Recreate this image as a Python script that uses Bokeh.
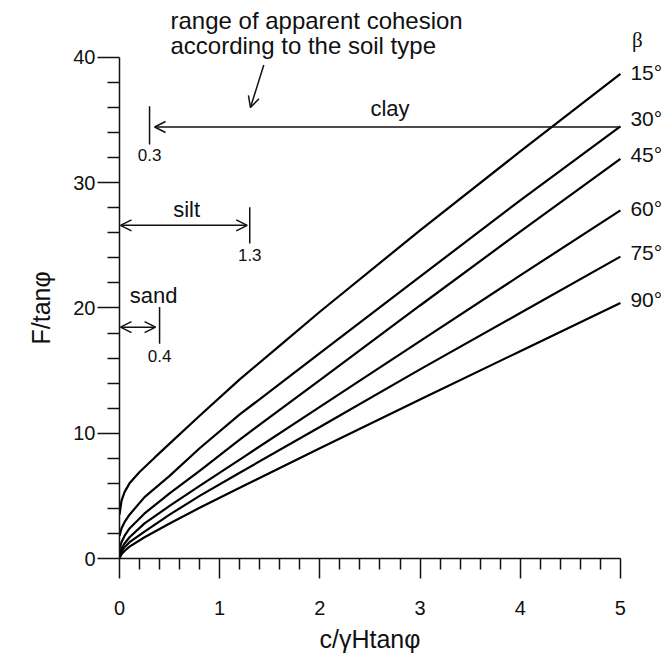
from bokeh.plotting import figure
from bokeh.models import Range1d, FixedTicker, Arrow, OpenHead, Title
from bokeh.core.properties import value
from bokeh.embed import file_html
from bokeh.resources import INLINE

# ---- data ----
betas = ["15°", "30°", "45°", "60°", "75°", "90°"]
beta_label_y = [38.83, 35.15, 32.26, 27.98, 24.4, 20.68]
x15 = [0, 0.02, 0.05, 0.1, 0.2, 0.35, 0.5, 0.8, 1.2, 1.6, 2, 3, 4, 5]
y15 = [3.5, 4.6, 5.3, 6.0, 6.9, 8.05, 9.17, 11.4, 14.3, 17.0, 19.7, 26.2, 32.5, 38.7]
x_other = [0, 0.02, 0.05, 0.1, 0.25, 0.5, 0.8, 1.2, 2, 3, 4, 5]
y30 = [1.8, 2.4, 2.9, 3.5, 4.9, 6.6, 8.8, 11.5, 16.4, 22.5, 28.6, 34.5]
y45 = [0.8, 1.3, 1.8, 2.4, 3.6, 5.2, 7.0, 9.5, 14.25, 20.2, 26.1, 31.9]
y60 = [0.3, 0.8, 1.2, 1.7, 2.8, 4.2, 5.8, 7.9, 12.1, 17.35, 22.6, 27.8]
y75 = [0.15, 0.55, 0.9, 1.3, 2.15, 3.5, 5.0, 6.85, 10.5, 15.1, 19.6, 24.1]
y90 = [0.0, 0.35, 0.6, 0.95, 1.7, 2.8, 4.05, 5.65, 8.8, 12.7, 16.55, 20.4]

# soil cohesion ranges (upper limit of c/γHtanφ)
soils = ["clay", "silt", "sand"]
soil_limits = [0.3, 1.3, 0.4]
soil_arrow_y = [34.45, 26.6, 18.47]

x_ticks = [0, 1, 2, 3, 4, 5]
x_minor = [i / 5 for i in range(26) if i % 5 != 0]
y_ticks = [0, 10, 20, 30, 40]
y_minor = [i * 2 for i in range(21) if i % 5 != 0]

FONT = "Liberation Sans"
INK = "#111111"

p = figure(width=664, height=662,
           x_range=Range1d(0, 5.44), y_range=Range1d(0, 44.55),
           output_backend="svg", toolbar_location=None,
           min_border_left=119, min_border_right=0,
           min_border_top=0, min_border_bottom=104)
p.background_fill_color = "white"
p.border_fill_color = "white"
p.outline_line_color = None
p.xgrid.visible = False
p.ygrid.visible = False

for ax in (p.xaxis[0], p.yaxis[0]):
    ax.axis_line_width = 1.5
    ax.axis_line_color = INK
    ax.major_tick_line_width = 1.5
    ax.minor_tick_line_width = 1.5
    ax.major_tick_line_color = INK
    ax.minor_tick_line_color = INK
    ax.major_tick_in = 0
    ax.minor_tick_in = 0
    ax.major_label_text_font = FONT
    ax.major_label_text_font_size = "20px"
    ax.major_label_text_color = INK

p.xaxis.ticker = FixedTicker(ticks=x_ticks, minor_ticks=x_minor)
p.yaxis.ticker = FixedTicker(ticks=y_ticks, minor_ticks=y_minor)
p.xaxis.bounds = (0, 5)
p.yaxis.bounds = (0, 40)
p.xaxis.major_tick_out = 20
p.xaxis.minor_tick_out = 11
p.yaxis.major_tick_out = 22
p.yaxis.minor_tick_out = 12
p.xaxis.major_label_standoff = 22
p.yaxis.major_label_standoff = 2

# axis titles (as side titles so they can be centred on the 0..5 / 0..40 span)
p.add_layout(Title(text="c/γHtanφ", align="left", offset=200, standoff=10,
                   text_font=FONT, text_font_size="25px",
                   text_font_style="normal", text_color=INK), "below")
p.add_layout(Title(text="F/tanφ", align="left", offset=214, standoff=28,
                   vertical_align="top",
                   text_font=FONT, text_font_size="25px",
                   text_font_style="normal", text_color=INK), "left")

# curves
curves = [(x15, y15), (x_other, y30), (x_other, y45),
          (x_other, y60), (x_other, y75), (x_other, y90)]
for xs, ys in curves:
    p.line(xs, ys, line_color="black", line_width=2.2)

# beta labels at right end of each curve
p.text(x=[5.1] * 6, y=beta_label_y, text=betas,
       text_font=value(FONT), text_font_size="21px", text_baseline="middle",
       text_align="left", text_color=INK)
p.text(x=[5.17], y=[41.4], text=["β"], text_font=value("Liberation Serif"),
       text_font_size="21px", text_baseline="middle", text_align="center",
       text_color=INK)

# soil ranges: limit bars
p.segment(x0=soil_limits, y0=[33.05, 25.15, 17.14], x1=soil_limits,
          y1=[36.1, 28.05, 20.07], line_color=INK, line_width=1.5)
p.text(x=soil_limits, y=[32.2, 24.2, 16.2],
       text=[str(v) for v in soil_limits], text_font=value(FONT),
       text_font_size="17px", text_baseline="middle", text_align="center",
       text_color=INK)
p.text(x=[2.7, 0.67, 0.34], y=[35.9, 27.9, 21.0], text=soils,
       text_font=value(FONT), text_font_size="22px", text_baseline="middle",
       text_align="center", text_color=INK)

# arrows
head = dict(size=11, line_width=1.5, line_color=INK)
p.add_layout(Arrow(end=OpenHead(**head), x_start=5, y_start=soil_arrow_y[0],
                   x_end=0.35, y_end=soil_arrow_y[0],
                   line_width=1.5, line_color=INK))
p.add_layout(Arrow(start=OpenHead(**head), end=OpenHead(**head),
                   x_start=0.01, y_start=soil_arrow_y[1],
                   x_end=1.275, y_end=soil_arrow_y[1],
                   line_width=1.5, line_color=INK))
p.add_layout(Arrow(start=OpenHead(**head), end=OpenHead(**head),
                   x_start=0.01, y_start=soil_arrow_y[2],
                   x_end=0.36, y_end=soil_arrow_y[2],
                   line_width=1.5, line_color=INK))

# note on apparent cohesion
p.text(x=[0.509, 0.509], y=[42.95, 40.96],
       text=["range of apparent cohesion", "according to the soil type"],
       text_font=value(FONT), text_font_size="24px", text_baseline="middle",
       text_align="left", text_color=INK)
p.add_layout(Arrow(end=OpenHead(**head), x_start=1.44, y_start=39.4,
                   x_end=1.307, y_end=36.0,
                   line_width=1.5, line_color=INK))

open("out.html", "w").write(file_html(p, INLINE))
